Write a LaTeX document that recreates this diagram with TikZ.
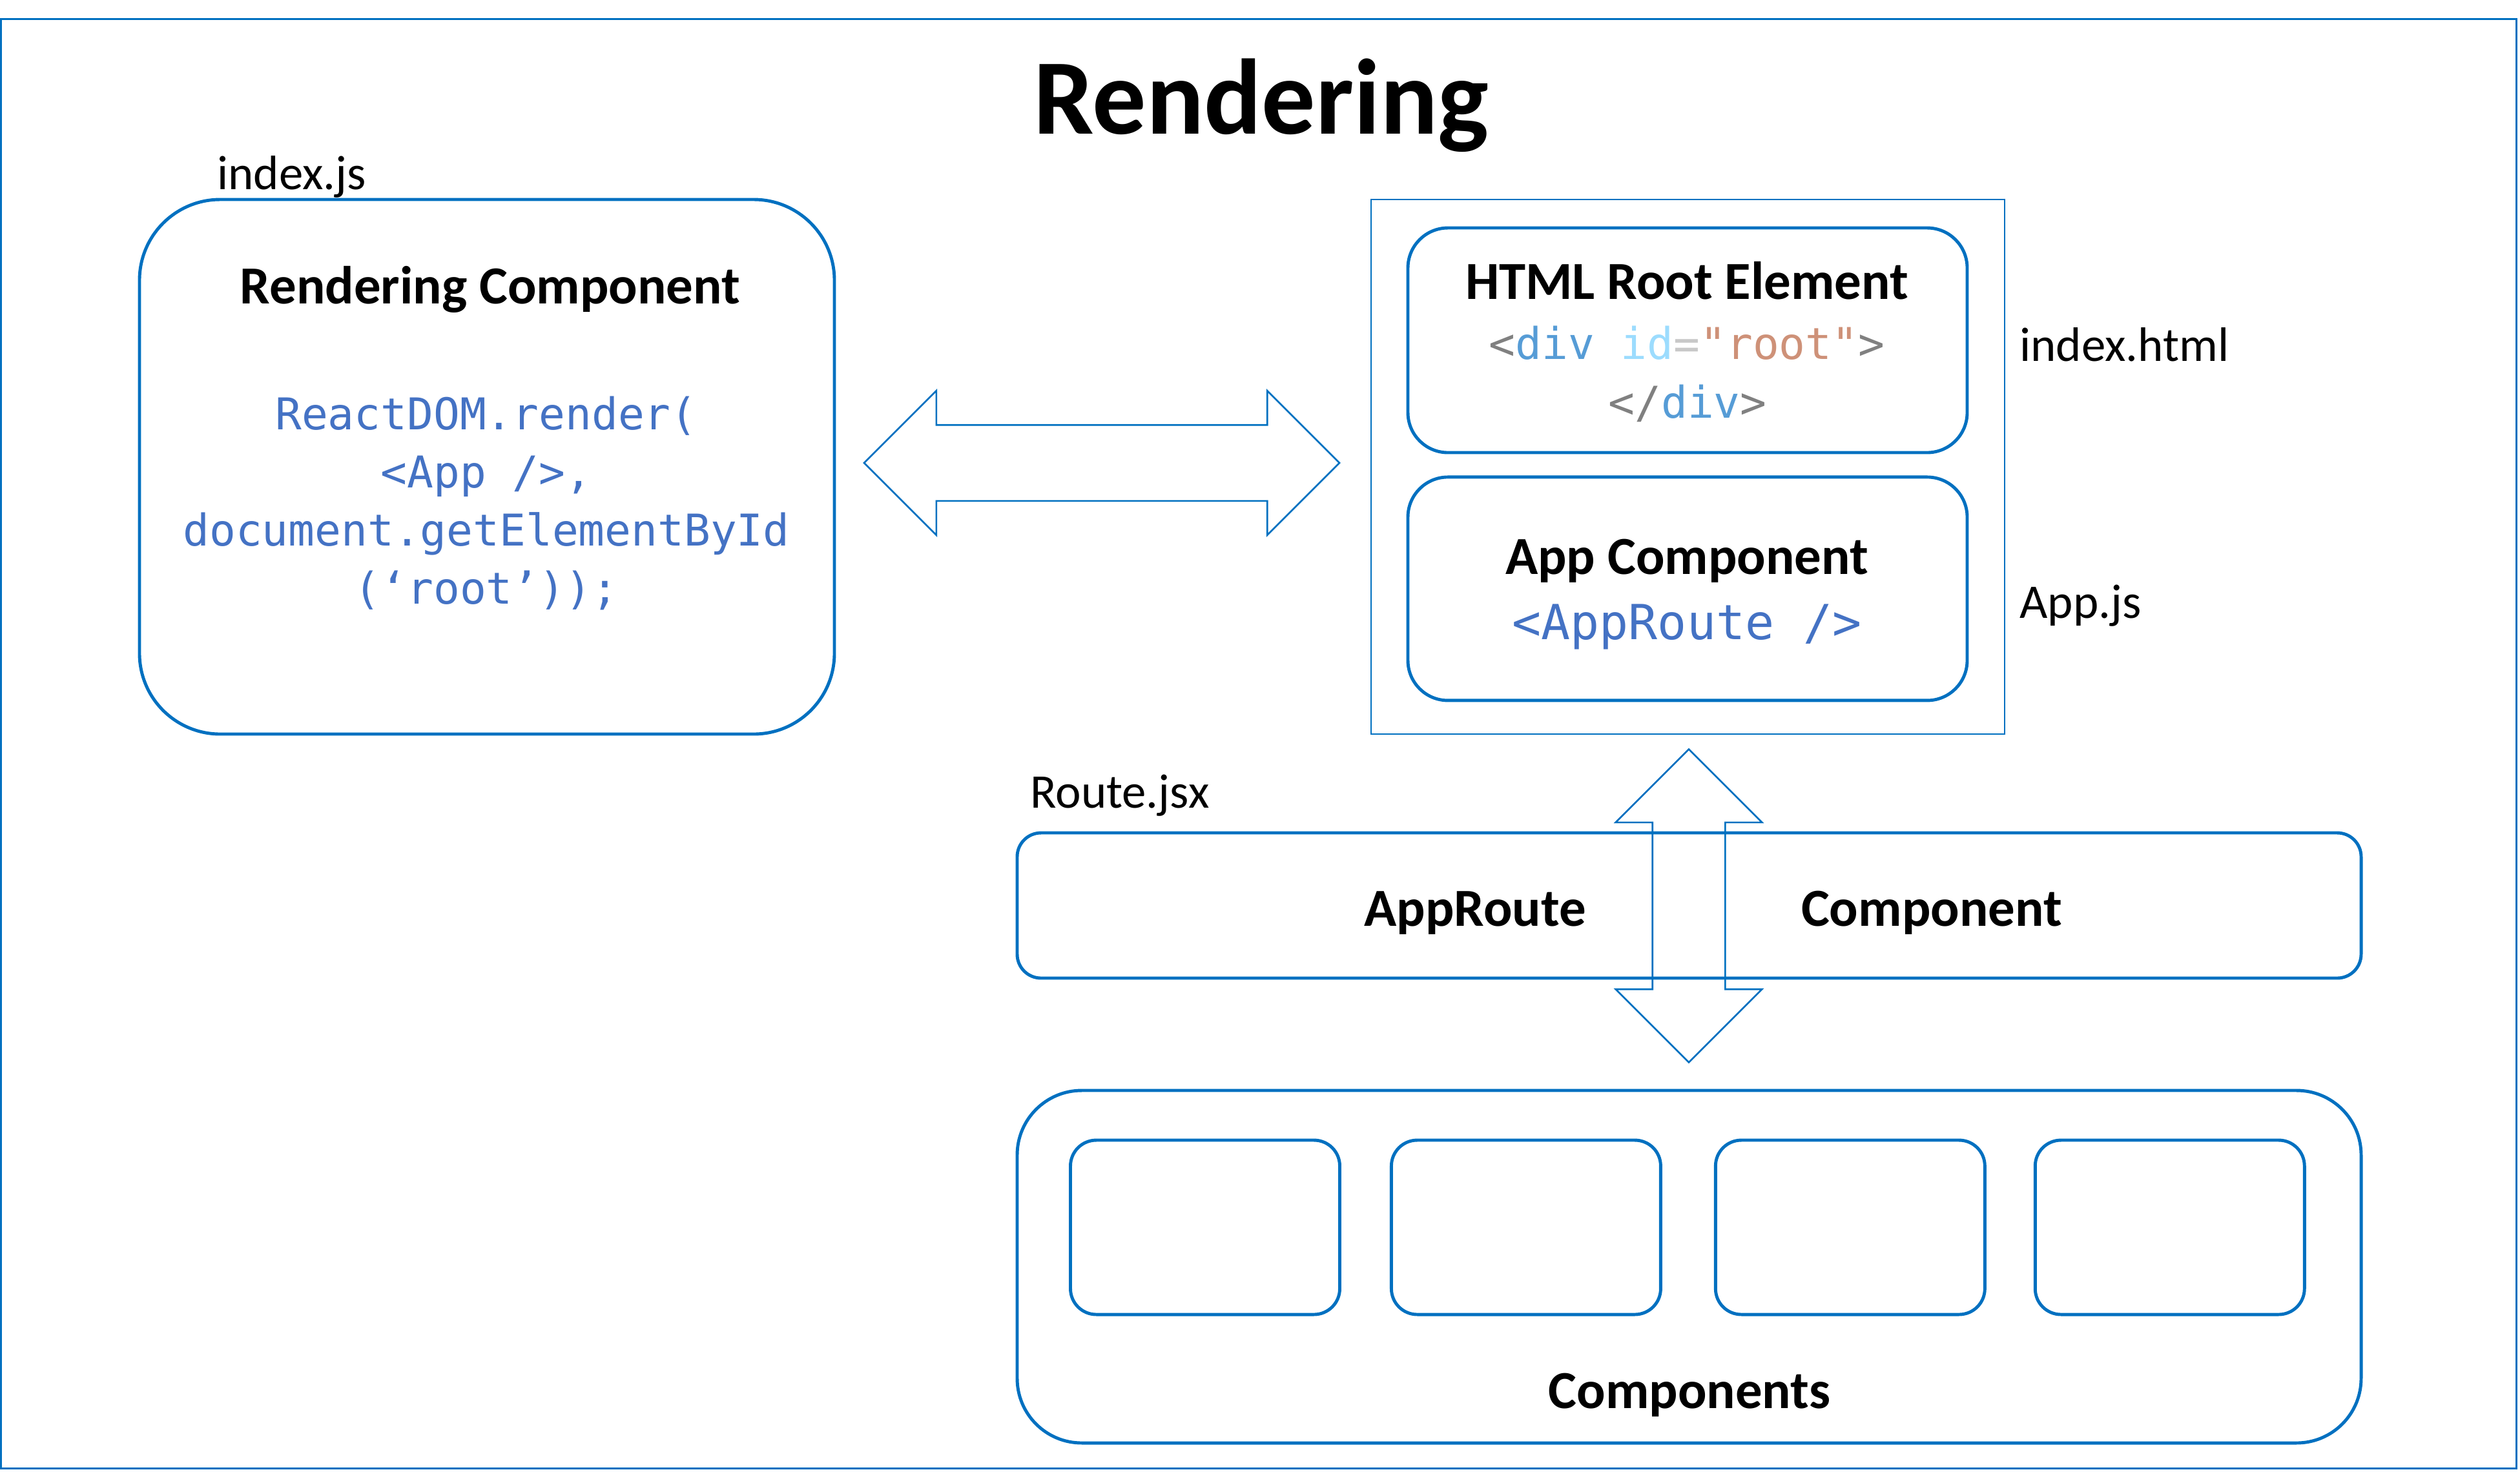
\documentclass[tikz,border=0pt]{standalone}
\usepackage{fontspec}
\setmainfont{Carlito}
\newfontfamily\codefont{DejaVu Sans Mono}
\usetikzlibrary{positioning,shapes.arrows}
\definecolor{boxblue}{HTML}{0070C0}
\definecolor{codeblue}{HTML}{4472C4}
\definecolor{tagGray}{HTML}{808080}
\definecolor{kwBlue}{HTML}{569CD6}
\definecolor{attrBlue}{HTML}{9CDCFE}
\definecolor{eqGray}{HTML}{C8C8C8}
\definecolor{strOrange}{HTML}{CE9178}

\begin{document}
\begin{tikzpicture}[
  roundbox/.style={draw=boxblue, line width=1.4pt, inner sep=0pt},
  thinbox/.style={draw=boxblue, line width=0.75pt, inner sep=0pt},
  heading/.style={font=\bfseries\fontsize{23.6}{28}\selectfont, anchor=base},
  filelbl/.style={font=\fontsize{21.3}{25}\selectfont, anchor=base west},
  codetxt/.style={text=codeblue, font=\codefont\fontsize{19.3}{25.6}\selectfont},
  blockarrow/.style={double arrow, draw=boxblue, line width=0.75pt, inner xsep=0pt, double arrow tip angle=90}
]
  \useasboundingbox (0,0) rectangle (39.02,-22.79);
  \node[thinbox, minimum width=38.95cm, minimum height=22.45cm] (frame) at (19.49,-11.52) {};
  \node[font=\bfseries\fontsize{47.3}{57}\selectfont, anchor=base] (title) at (19.53,-2.07) {Rendering};

  % index.js
  \node[roundbox, rounded corners=1.25cm, minimum width=10.76cm, minimum height=8.28cm] (render) at (7.54,-7.23) {};
  \node[filelbl] (indexjs) at (3.24,-2.93) {index.js};
  \node[heading] (rendertitle) at (7.59,-4.70) {Rendering Component};
  \node[codetxt, align=center] (rendercode) at (7.53,-7.79) {ReactDOM.render(\\<App />,\\document.getElementById\\(‘root’));};

  % index.html + App.js
  \node[thinbox, minimum width=9.81cm, minimum height=8.28cm] (htmlfile) at (26.135,-7.23) {};
  \node[roundbox, rounded corners=0.62cm, minimum width=8.66cm, minimum height=3.48cm] (htmlroot) at (26.13,-5.27) {};
  \node[roundbox, rounded corners=0.62cm, minimum width=8.66cm, minimum height=3.46cm, below=0.33cm of htmlroot] (appcomp) {};
  \node[heading] (htmltitle) at (26.12,-4.63) {HTML Root Element};
  \node[codetxt, anchor=base] (divopen) at (26.12,-5.56) {\textcolor{tagGray}{<}\textcolor{kwBlue}{div} \textcolor{attrBlue}{id}\textcolor{eqGray}{=}\textcolor{strOrange}{"root"}\textcolor{tagGray}{>}};
  \node[codetxt, anchor=base] (divclose) at (26.13,-6.47) {\textcolor{tagGray}{</}\textcolor{kwBlue}{div}\textcolor{tagGray}{>}};
  \node[heading] (apptitle) at (26.12,-8.89) {App Component};
  \node[codetxt, anchor=base, font=\codefont\fontsize{21.3}{26}\selectfont] (approutetag) at (26.12,-9.90) {<AppRoute />};
  \node[filelbl] (indexhtml) at (31.15,-5.59) {index.html};
  \node[filelbl] (appjs) at (31.15,-9.57) {App.js};

  % Route.jsx
  \node[roundbox, rounded corners=0.37cm, minimum width=20.81cm, minimum height=2.25cm] (route) at (26.155,-14.025) {};
  \node[filelbl] (routejsx) at (15.83,-12.51) {Route.jsx};
  \node[heading] (approute) at (22.84,-14.34) {AppRoute};
  \node[heading] (component) at (29.91,-14.34) {Component};

  % components
  \node[roundbox, rounded corners=1.0cm, minimum width=20.81cm, minimum height=5.46cm] (comps) at (26.155,-19.62) {};
  \node[roundbox, rounded corners=0.4cm, minimum width=4.17cm, minimum height=2.70cm] (comp1) at (18.66,-19.01) {};
  \node[roundbox, rounded corners=0.4cm, minimum width=4.17cm, minimum height=2.70cm, right=0.75cm of comp1] (comp2) {};
  \node[roundbox, rounded corners=0.4cm, minimum width=4.17cm, minimum height=2.70cm, right=0.8cm of comp2] (comp3) {};
  \node[roundbox, rounded corners=0.4cm, minimum width=4.17cm, minimum height=2.70cm, right=0.73cm of comp3] (comp4) {};
  \node[heading] (compstitle) at (26.16,-21.81) {Components};

  % block arrows
  \node[blockarrow, inner ysep=0.575cm, double arrow head extend=0.53cm, minimum height=7.36cm, minimum width=2.21cm] (linkarrow) at (17.06,-7.17) {};
  \node[blockarrow, rotate=90, inner ysep=0.55cm, double arrow head extend=0.57cm, minimum height=4.85cm, minimum width=2.24cm] (routearrow) at (26.15,-14.03) {};
\end{tikzpicture}
\end{document}
